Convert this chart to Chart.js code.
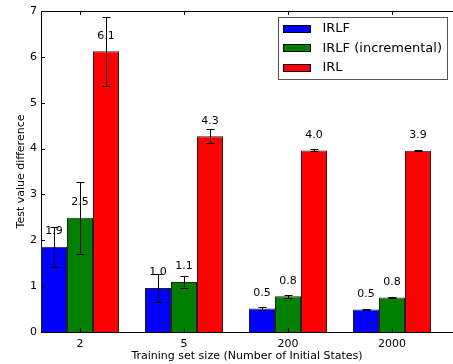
<!DOCTYPE html>
<html>
<head>
<meta charset="utf-8">
<script src="https://cdn.jsdelivr.net/npm/chart.js@4"></script>
<style>
  html, body { margin: 0; padding: 0; background: #fff; }
  canvas { display: block; }
</style>
</head>
<body>
<canvas id="chart" width="453" height="364"></canvas>
<script>
// data - START
const categories = ['2', '5', '200', '2000'];
const seriesNames = ['IRLF', 'IRLF (incremental)', 'IRL'];
const seriesColors = ['#0000ff', '#008000', '#ff0000'];

const irlfValues = [1.86, 0.96, 0.51, 0.49];
const irlfErrors = [0.44, 0.30, 0.03, 0.01];
const irlfLabels = ['1.9', '1.0', '0.5', '0.5'];

const incValues = [2.49, 1.09, 0.78, 0.75];
const incErrors = [0.78, 0.13, 0.03, 0.01];
const incLabels = ['2.5', '1.1', '0.8', '0.8'];

const irlValues = [6.12, 4.27, 3.96, 3.95];
const irlErrors = [0.76, 0.15, 0.02, 0.01];
const irlLabels = ['6.1', '4.3', '4.0', '3.9'];

const yTicks = [0, 1, 2, 3, 4, 5, 6, 7];
// data - END

const FONT = 'DejaVu Sans';

let makeSet = (idx, values, errors, labels) => {
    return {
        label: seriesNames[idx],
        data: categories.map((c, i) => ({ x: i, y: values[i] })),
        errors: errors,
        valueLabels: labels,
        backgroundColor: seriesColors[idx],
        borderColor: '#222',
        borderWidth: 1,
        borderSkipped: 'bottom',
        inflateAmount: 0,
        categoryPercentage: 0.75,
        barPercentage: 1.0
    };
};

// error bars, value labels, spines, inward ticks, legend box
const decorPlugin = {
    id: 'decor',
    afterDatasetsDraw(chart) {
        let ctx = chart.ctx;
        let yScale = chart.scales.y;
        ctx.save();
        chart.data.datasets.forEach((ds, di) => {
            let meta = chart.getDatasetMeta(di);
            meta.data.forEach((bar, i) => {
                let v = ds.data[i].y;
                let e = ds.errors[i];
                let yTop = Math.round(yScale.getPixelForValue(v + e)) + 0.5;
                let yBot = Math.round(yScale.getPixelForValue(v - e)) + 0.5;
                let x = Math.round(bar.x) + 0.5;
                ctx.strokeStyle = '#000';
                ctx.lineWidth = 1;
                ctx.beginPath();
                ctx.moveTo(x, yTop);
                ctx.lineTo(x, yBot);
                ctx.moveTo(x - 4, yTop);
                ctx.lineTo(x + 4, yTop);
                ctx.moveTo(x - 4, yBot);
                ctx.lineTo(x + 4, yBot);
                ctx.stroke();

                ctx.fillStyle = '#000';
                ctx.font = '11px "' + FONT + '"';
                ctx.textAlign = 'center';
                ctx.textBaseline = 'middle';
                ctx.fillText(ds.valueLabels[i], bar.x, bar.y - 15.5);
            });
        });
        ctx.restore();
    },
    afterDraw(chart) {
        let ctx = chart.ctx;
        let area = chart.chartArea;
        let xScale = chart.scales.x;
        let yScale = chart.scales.y;
        ctx.save();
        ctx.strokeStyle = '#000';
        ctx.lineWidth = 1;
        ctx.beginPath();
        // top spine
        ctx.moveTo(area.left, Math.round(area.top) + 0.5);
        ctx.lineTo(area.right, Math.round(area.top) + 0.5);
        // x ticks, inward on bottom and top
        categories.forEach((c, i) => {
            let x = Math.round(xScale.getPixelForValue(i)) + 0.5;
            ctx.moveTo(x, area.bottom);
            ctx.lineTo(x, area.bottom - 4);
            ctx.moveTo(x, area.top);
            ctx.lineTo(x, area.top + 4);
        });
        // y ticks, inward on left
        yTicks.forEach((t) => {
            let y = Math.round(yScale.getPixelForValue(t)) + 0.5;
            ctx.moveTo(area.left, y);
            ctx.lineTo(area.left + 4, y);
        });
        ctx.stroke();

        // legend
        let bx = 278.5, by = 17.5, bw = 169, bh = 62;
        ctx.fillStyle = '#fff';
        ctx.fillRect(bx, by, bw, bh);
        ctx.strokeStyle = '#555';
        ctx.strokeRect(bx, by, bw, bh);
        chart.data.datasets.forEach((ds, di) => {
            let cy = 28.8 + di * 19.5;
            ctx.fillStyle = ds.backgroundColor;
            ctx.fillRect(283.5, Math.round(cy - 4) + 0.5, 27, 7);
            ctx.strokeStyle = '#000';
            ctx.strokeRect(283.5, Math.round(cy - 4) + 0.5, 27, 7);
            ctx.fillStyle = '#000';
            ctx.font = '13px "' + FONT + '"';
            ctx.textAlign = 'left';
            ctx.textBaseline = 'middle';
            ctx.fillText(ds.label, 322.5, cy);
        });
        ctx.restore();
    }
};

let ctx = document.getElementById('chart');
let config = {
    type: 'bar',
    data: {
        datasets: [
            makeSet(0, irlfValues, irlfErrors, irlfLabels),
            makeSet(1, incValues, incErrors, incLabels),
            makeSet(2, irlValues, irlErrors, irlLabels)
        ]
    },
    options: {
        responsive: false,
        animation: false,
        devicePixelRatio: 1,
        layout: { padding: { top: 11, right: 0, left: 0, bottom: 0 } },
        plugins: {
            legend: { display: false },
            tooltip: { enabled: false }
        },
        scales: {
            x: {
                type: 'linear',
                offset: false,
                min: -0.375,
                max: 3.5865,
                grid: { display: false, drawTicks: false, offset: false },
                border: { display: true, color: '#000', width: 1 },
                afterBuildTicks: (axis) => {
                    axis.ticks = categories.map((c, i) => ({ value: i }));
                },
                afterFit: (axis) => { axis.height = 32; },
                ticks: {
                    autoSkip: false,
                    maxRotation: 0,
                    padding: 6,
                    color: '#000',
                    font: { family: FONT, size: 11 },
                    callback: (value) => categories[value]
                },
                title: {
                    display: true,
                    text: 'Training set size (Number of Initial States)',
                    color: '#000',
                    font: { family: FONT, size: 11 },
                    padding: { top: 0, bottom: 1 }
                }
            },
            y: {
                min: 0,
                max: 7,
                grid: { display: false, drawTicks: false },
                border: { display: true, color: '#000', width: 1 },
                afterBuildTicks: (axis) => {
                    axis.ticks = yTicks.map((t) => ({ value: t }));
                },
                afterFit: (axis) => { axis.width = 41; },
                ticks: {
                    padding: 4,
                    color: '#000',
                    font: { family: FONT, size: 11 }
                },
                title: {
                    display: true,
                    text: 'Test value difference',
                    color: '#000',
                    font: { family: FONT, size: 11 },
                    padding: { top: 15, bottom: 0 }
                }
            }
        }
    },
    plugins: [decorPlugin]
};
let barChart = new Chart(ctx, config);
</script>
</body>
</html>
